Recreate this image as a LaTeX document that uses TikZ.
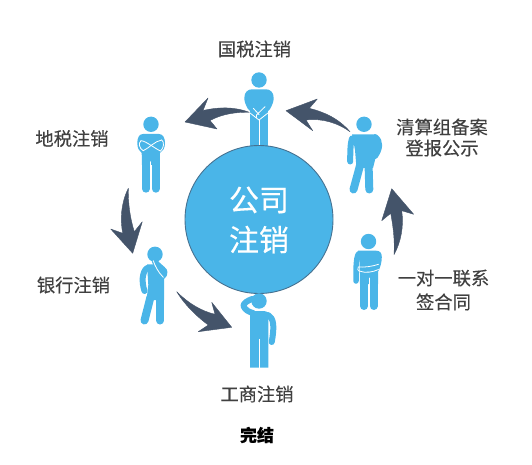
\documentclass[tikz,border=0pt]{standalone}
\usepackage{fontspec}
\setmainfont[FakeBold=0.3]{Noto Sans CJK SC}
\definecolor{fig}{HTML}{4AB5E8}
\definecolor{arr}{HTML}{44546A}
\definecolor{txt}{HTML}{404040}
\tikzset{
  lab/.style={font=\fontsize{18.3}{20}\selectfont,text=txt,align=center,inner sep=0pt},
  limb/.style={draw=fig,line width=8pt,line cap=round,line join=round},
  arm/.style={draw=fig,line width=6pt,line cap=round,line join=round},
  seam/.style={draw=white,line width=0.8pt,line cap=round,line join=round},
  body/.style={fill=fig,draw=none},
  swoosh/.style={fill=arr,draw=arr,line width=0.4pt,line join=round},
}
\begin{document}
\begin{tikzpicture}[x=1pt,y=-1pt]
\useasboundingbox (0,0) rectangle (532,465);
% ---- top figure
\fill[body] (259,80) circle (7.7);
\fill[body] (250,105) rectangle (268.3,150);
\fill[body] (259,120) -- (248,109) .. controls (245.5,105) and (244.3,101) .. (244.3,98) .. controls (244.3,92) and (248,89.3) .. (252,89.3) -- (266,89.3) .. controls (270,89.3) and (273.7,92) .. (273.7,98) .. controls (273.7,101) and (272.5,105) .. (270,109) -- cycle;
\draw[seam] (259,120) -- (259,150);
\draw[seam] (250,113) -- (259,120) -- (268,113);
\draw[seam] (253.3,108.3) -- (259,114.5);
\draw[seam] (265,106.7) -- (256.5,115) -- (256.5,117.5);
% ---- central circle
\node[circle,fill=fig,draw=arr!70!fig,line width=0.9pt,minimum size=148pt,inner sep=0pt] (hub) at (259,219.5) {};
\node[font=\fontsize{30}{40}\selectfont,text=white,align=center,inner sep=0pt] (hubt) at (259,220) {公司\\注销};
% ---- left figure (arms crossed)
\fill[body] (151,124.3) circle (7.7);
\draw[limb] (146,160) -- (146,188.7);
\draw[limb] (155.7,160) -- (155.7,188.7);
\fill[body] (143,134) .. controls (139,134) and (137.3,138) .. (137.3,143) .. controls (137.3,148) and (139,151) .. (141.7,153) -- (142,165) -- (159.7,165) -- (160,153) .. controls (163,151) and (165,148) .. (165,143) .. controls (165,138) and (163,134) .. (159,134) -- cycle;
\draw[seam] (150.8,161.7) -- (150.8,189);
\draw[seam] (141,140.7) .. controls (146,141) and (154,148) .. (160.5,151);
\draw[seam] (161.7,140) .. controls (155,141) and (149,148) .. (143.3,150.7) .. controls (139.5,149) and (138,143) .. (141,140.7);
\draw[seam] (161.7,140) .. controls (164.5,142) and (164,148) .. (160.5,151);
% ---- upper right figure
\fill[body] (364,124.3) circle (7.7);
\draw[limb] (360.7,163) -- (353.5,189.5);
\draw[limb] (368.5,163) -- (369.3,189.5);
\fill[body] (352,134.3) -- (372,134.3) .. controls (374,134.3) and (375.5,135) .. (376.5,136) -- (375.5,158) -- (373,168) -- (356.5,168) -- (355,150) -- (353.5,142) -- cycle;
\draw[arm] (352,138.5) .. controls (350.5,143) and (350.2,150) .. (350.2,161.5);
\draw[arm] (375,137) .. controls (381,141) and (380,149) .. (375,156);
% ---- lower right figure
\fill[body] (368.5,241.5) circle (7.7);
\draw[limb] (364,280) -- (364,306);
\draw[limb] (373.7,280) -- (373.7,306);
\fill[body] (358,250.7) -- (376,250.7) .. controls (380,250.7) and (381.8,253) .. (381.8,257) .. controls (381.8,263) and (380,268) .. (378,272) -- (378,284) -- (360,284) -- (359.5,262) -- cycle;
\draw[draw=fig,line width=5.5pt,line cap=round,line join=round] (358.5,254) .. controls (356,258) and (356,268) .. (356,281);
\draw[seam] (369,278) -- (369,310);
\draw[seam] (358.3,267) .. controls (364,267.5) and (372,266.5) .. (378.5,264.3);
\draw[seam] (358.3,267) .. controls (357.3,269) and (357.8,270.5) .. (359,271) .. controls (366,273.5) and (373,272) .. (378.5,269.5);
% ---- lower left figure
\fill[body] (155,254.3) circle (7.7);
\draw[limb] (150.5,297) -- (144.5,320.5);
\draw[limb] (160.2,297) -- (160.2,320.5);
\fill[body] (147,264.3) -- (158,264.3) -- (164.2,270) -- (164.2,300) -- (146.5,300) -- (148.3,285) -- cycle;
\draw[arm] (147,268) .. controls (142,272) and (141.5,282) .. (144.5,291);
\draw[arm] (155,262) .. controls (158,266) and (162,268) .. (164.5,271.5) .. controls (165,274) and (163.5,276) .. (161.5,277);
\draw[seam] (153.3,260.7) .. controls (155,266) and (158,272) .. (163.3,277.3);
% ---- bottom figure
\fill[body] (259,301) circle (7.7);
\fill[body] (250,311) -- (262,311) .. controls (266,311) and (268.3,312) .. (269.5,314) -- (268.3,320) -- (268.3,367.7) -- (250,367.7) -- cycle;
\draw[arm] (268,315) .. controls (274,318) and (274.5,327) .. (271.7,342);
\draw[arm] (252,299) .. controls (247,301) and (243.5,303) .. (243.5,306) .. controls (245,310) and (249,312) .. (253,313);
\draw[seam] (259.2,339.3) -- (259.2,368);
% ---- swooshes
\path[swoosh] (249.3,112.3) .. controls (234,106.5) and (218,107) .. (203,110.5) -- (208,98) -- (185,122) -- (217,129) -- (210,120.5) .. controls (222,114) and (236,112) .. (249.3,112.3) -- cycle;
\path[swoosh] (350,131.7) .. controls (338,118) and (324,112) .. (309.3,108.3) -- (317.3,99) -- (286,110.7) -- (312.7,130.7) -- (306,120) .. controls (322,118) and (338,123) .. (350,131.7) -- cycle;
\path[swoosh] (394,254.7) .. controls (395,240) and (393,226) .. (390.7,213.3) -- (381.7,220.7) -- (391.7,188.7) -- (413.7,214.3) -- (401.7,210.7) .. controls (404,226) and (401,242) .. (394,254.7) -- cycle;
\path[swoosh] (128.3,188.3) .. controls (121,203) and (120,219) .. (122.7,233.3) -- (110.7,229) -- (132.7,253.3) -- (142.3,221.7) -- (134.3,231.7) .. controls (130,218) and (128,203) .. (128.3,188.3) -- cycle;
\path[swoosh] (176.7,291.7) .. controls (186,307) and (200,319) .. (208.3,325) -- (198.3,331.7) -- (231.7,327.3) -- (211.7,302.3) -- (215,314.3) .. controls (201,311) and (188,303) .. (176.7,291.7) -- cycle;
% ---- labels
\node[lab] (a) at (254.5,49) {国税注销};
\node[lab] (b) at (72,138.5) {地税注销};
\node[lab] (c) at (73.5,285) {银行注销};
\node[lab] (d) at (257,394) {工商注销};
\node[lab,font=\fontsize{17}{20}\selectfont\bfseries,text=black] (e) at (257,435) {完结};
\node[lab,font=\fontsize{18.3}{21}\selectfont] (f) at (442,137.5) {清算组备案\\登报公示};
\node[lab,font=\fontsize{18.3}{24}\selectfont] (g) at (443.5,290) {一对一联系\\签合同};
\end{tikzpicture}
\end{document}
